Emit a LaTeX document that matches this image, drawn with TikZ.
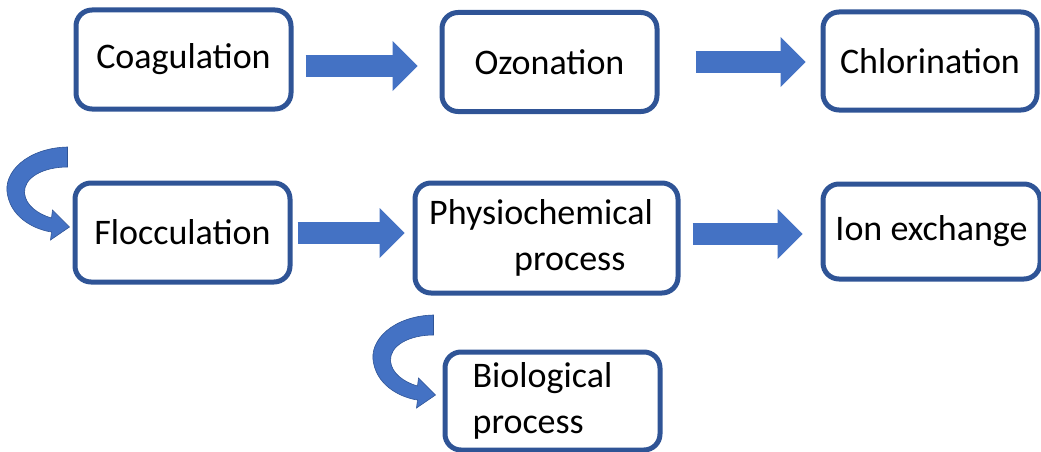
\documentclass[tikz,border=0pt]{standalone}
\usepackage{fontspec}
\setmainfont{Carlito}
\usetikzlibrary{arrows.meta}
\definecolor{boxblue}{RGB}{47,84,150}
\definecolor{arrowblue}{RGB}{68,114,196}
\tikzset{
  box/.style={draw=boxblue, line width=5pt, rounded corners=16pt, fill=white,
    minimum width=215pt, minimum height=99pt, inner sep=0pt,
    font=\fontsize{36}{46}\selectfont, align=left},
  barrow/.style={draw=arrowblue, line width=22pt,
    -{Triangle[width=50pt,length=25pt,line width=0pt,fill=arrowblue]}},
  curvarrow/.pic={
    \fill[arrowblue, draw=boxblue, line width=0.6pt]
      (-2,-80) .. controls (-42,-79) and (-67,-55) .. (-62,-32)
      .. controls (-57,-7) and (-32,3) .. (-18,5)
      -- (-19,13) -- (0,0) -- (-17,-17) -- (-18,-9)
      .. controls (-32,-13) and (-44,-22) .. (-45,-34)
      .. controls (-46,-49) and (-27,-60) .. (-2,-60) -- cycle;
  }
}
\begin{document}
\begin{tikzpicture}[x=1pt,y=-1pt]
\useasboundingbox (0,0) rectangle (1041,452);
\node[box] (coag) at (183.5,59.5) {Coagulation};
\node[box] (ozon) at (549.5,62) {Ozonation};
\node[box, minimum width=214pt, minimum height=98pt] (chlor) at (930,61) {Chlorination};
\node[box] (floc) at (182.5,232.5) {Flocculation};
\node[box, minimum width=263pt, minimum height=110pt] (phys) at (546.5,238) {Physiochemical\hspace*{11pt}\\\hspace*{85pt}process};
\node[box, minimum width=217pt, minimum height=95pt] (ion) at (931.5,231.5) {Ion exchange};
\node[box, minimum height=98pt] (bio) at (552.5,401) {Biological\hspace*{20pt}\\process};

\draw[barrow, shorten <=12pt, shorten >=22pt] ([yshift=-6.5pt]coag.east) -- ([yshift=-4pt]ozon.west);
\draw[barrow, shorten <=36pt, shorten >=15pt] (ozon.east) -- ([yshift=-1pt]chlor.west);
\draw[barrow, shorten <=5pt, shorten >=8pt] ([yshift=-0.5pt]floc.east) -- ([yshift=5pt]phys.west);
\draw[barrow, shorten <=12pt, shorten >=18pt] ([yshift=4pt]phys.east) -- ([yshift=-2.5pt]ion.west);

\pic at ([shift={(-3,-5.5)}]floc.west) {curvarrow};
\pic at ([shift={(-7,-6)}]bio.west) {curvarrow};
\end{tikzpicture}
\end{document}
